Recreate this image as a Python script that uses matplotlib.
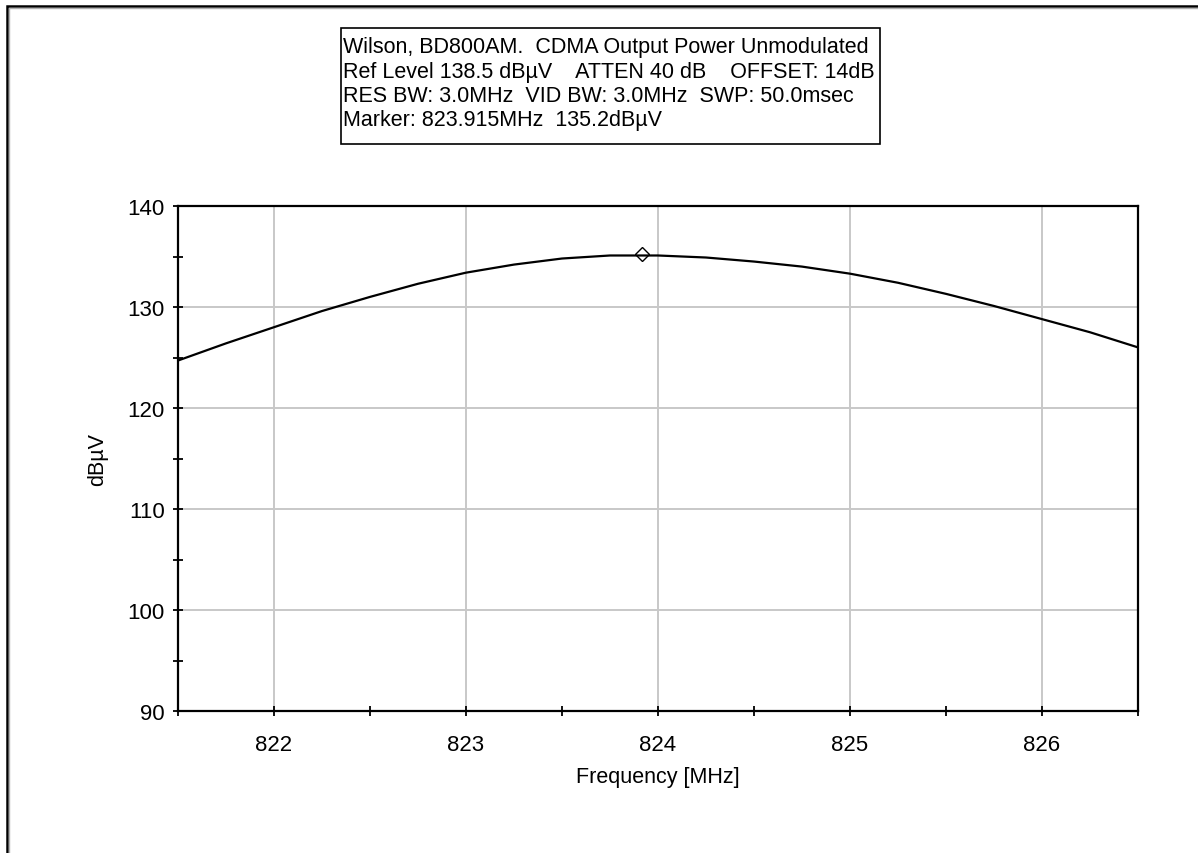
import matplotlib.pyplot as plt
from matplotlib.patches import Rectangle
from matplotlib.ticker import MultipleLocator

# Trace
freq_mhz = [821.5, 821.75, 822.0, 822.25, 822.5, 822.75, 823.0, 823.25, 823.5,
            823.75, 824.0, 824.25, 824.5, 824.75, 825.0, 825.25, 825.5, 825.75,
            826.0, 826.25, 826.5]
level_dbuv = [124.7, 126.4, 128.0, 129.6, 131.0, 132.3, 133.4, 134.2, 134.8,
              135.1, 135.1, 134.9, 134.5, 134.0, 133.3, 132.4, 131.3, 130.1,
              128.8, 127.5, 126.0]

marker_freq = 823.915
marker_level = 135.2

info_lines = [
    "Wilson, BD800AM.  CDMA Output Power Unmodulated",
    "Ref Level 138.5 dB\u00b5V    ATTEN 40 dB    OFFSET: 14dB",
    "RES BW: 3.0MHz  VID BW: 3.0MHz  SWP: 50.0msec",
    "Marker: 823.915MHz  135.2dB\u00b5V",
]

W, H = 1198, 854
plt.rcParams['font.family'] = ['Liberation Sans', 'DejaVu Sans']
fig = plt.figure(figsize=(W / 100, H / 100), dpi=100)
fig.patch.set_facecolor('white')

# window frame (only top and left edges are visible)
fig.patches.append(Rectangle((6.5 / W, -0.1), 2, (H - 6.5) / H + 0.1,
                             transform=fig.transFigure, fill=False,
                             edgecolor='black', linewidth=1.8))
fig.patches.append(Rectangle((8.5 / W, -0.1), 2, (H - 8.5) / H + 0.1,
                             transform=fig.transFigure, fill=False,
                             edgecolor='#b0b0b0', linewidth=1.0))

ax = fig.add_axes([178 / W, 1 - 712 / H, (1138 - 178) / W, (712 - 207) / H])
ax.plot(freq_mhz, level_dbuv, color='black', linewidth=1.6)
ax.plot([marker_freq], [marker_level], marker='D', markersize=7,
        markerfacecolor='none', markeredgecolor='black', markeredgewidth=1)

ax.set_xlim(821.5, 826.5)
ax.set_ylim(90, 140)
ax.xaxis.set_major_locator(MultipleLocator(1))
ax.xaxis.set_minor_locator(MultipleLocator(0.5))
ax.yaxis.set_major_locator(MultipleLocator(10))
ax.yaxis.set_minor_locator(MultipleLocator(5))
ax.grid(True, which='major', color='#c8c8c8', linewidth=1.4)
ax.set_axisbelow(True)
for s in ax.spines.values():
    s.set_linewidth(1.6)
ax.tick_params(which='both', direction='inout', length=7, width=1.3,
               labelsize=16, colors='black')
ax.tick_params(axis='x', pad=13)
ax.tick_params(axis='y', pad=6)
ax.tick_params(which='both', top=False, right=False)

ax.set_xlabel("Frequency [MHz]", fontsize=15.5, labelpad=8)
ax.set_ylabel("dB\u00b5V", fontsize=15.5, labelpad=14)

# info box
bx0, by0, bx1, by1 = 341, 29, 880, 145
fig.patches.append(Rectangle((bx0 / W, 1 - by1 / H), (bx1 - bx0) / W, (by1 - by0) / H,
                             transform=fig.transFigure, fill=False,
                             edgecolor='black', linewidth=1.2))
for i, line in enumerate(info_lines):
    fig.text(343 / W, 1 - (48 + i * 24.3) / H, line, fontsize=15.5,
             ha='left', va='center')

fig.savefig("out.png", dpi=100)
